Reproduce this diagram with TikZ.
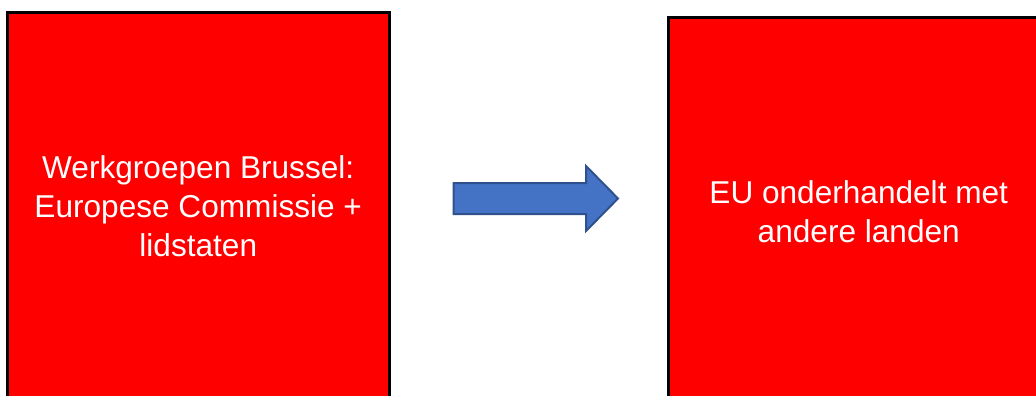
\documentclass[tikz,border=0pt]{standalone}
\usepackage{fontspec}
\setmainfont{Liberation Sans}
\definecolor{boxred}{HTML}{FF0000}
\definecolor{arrowfill}{HTML}{4472C4}
\definecolor{arrowline}{HTML}{2F528F}
\begin{document}
\begin{tikzpicture}[x=1pt,y=-1pt,
  redbox/.style={draw=black, line width=3pt, fill=boxred, text=white,
    align=center, inner sep=0pt, font=\fontsize{31.6}{39}\selectfont,
    minimum width=381.5pt, minimum height=386.5pt},
  blockarrow/.style={fill=arrowfill, draw=arrowline, line width=2pt, line join=miter}]
\useasboundingbox (0,0) rectangle (1036,396);
\fill[white] (0,0) rectangle (1036,396);
\node[redbox] (left) at (198.25,205.75) {Werkgroepen Brussel:\\Europese Commissie +\\lidstaten};
\node[redbox, minimum height=387pt] (right) at (858.75,211.5) {EU onderhandelt met\\andere landen};
\draw[blockarrow] (453.5,183) -- (586,183) -- (586,166) -- (618,198.5) -- (586,231) -- (586,214) -- (453.5,214) -- cycle;
\end{tikzpicture}
\end{document}
